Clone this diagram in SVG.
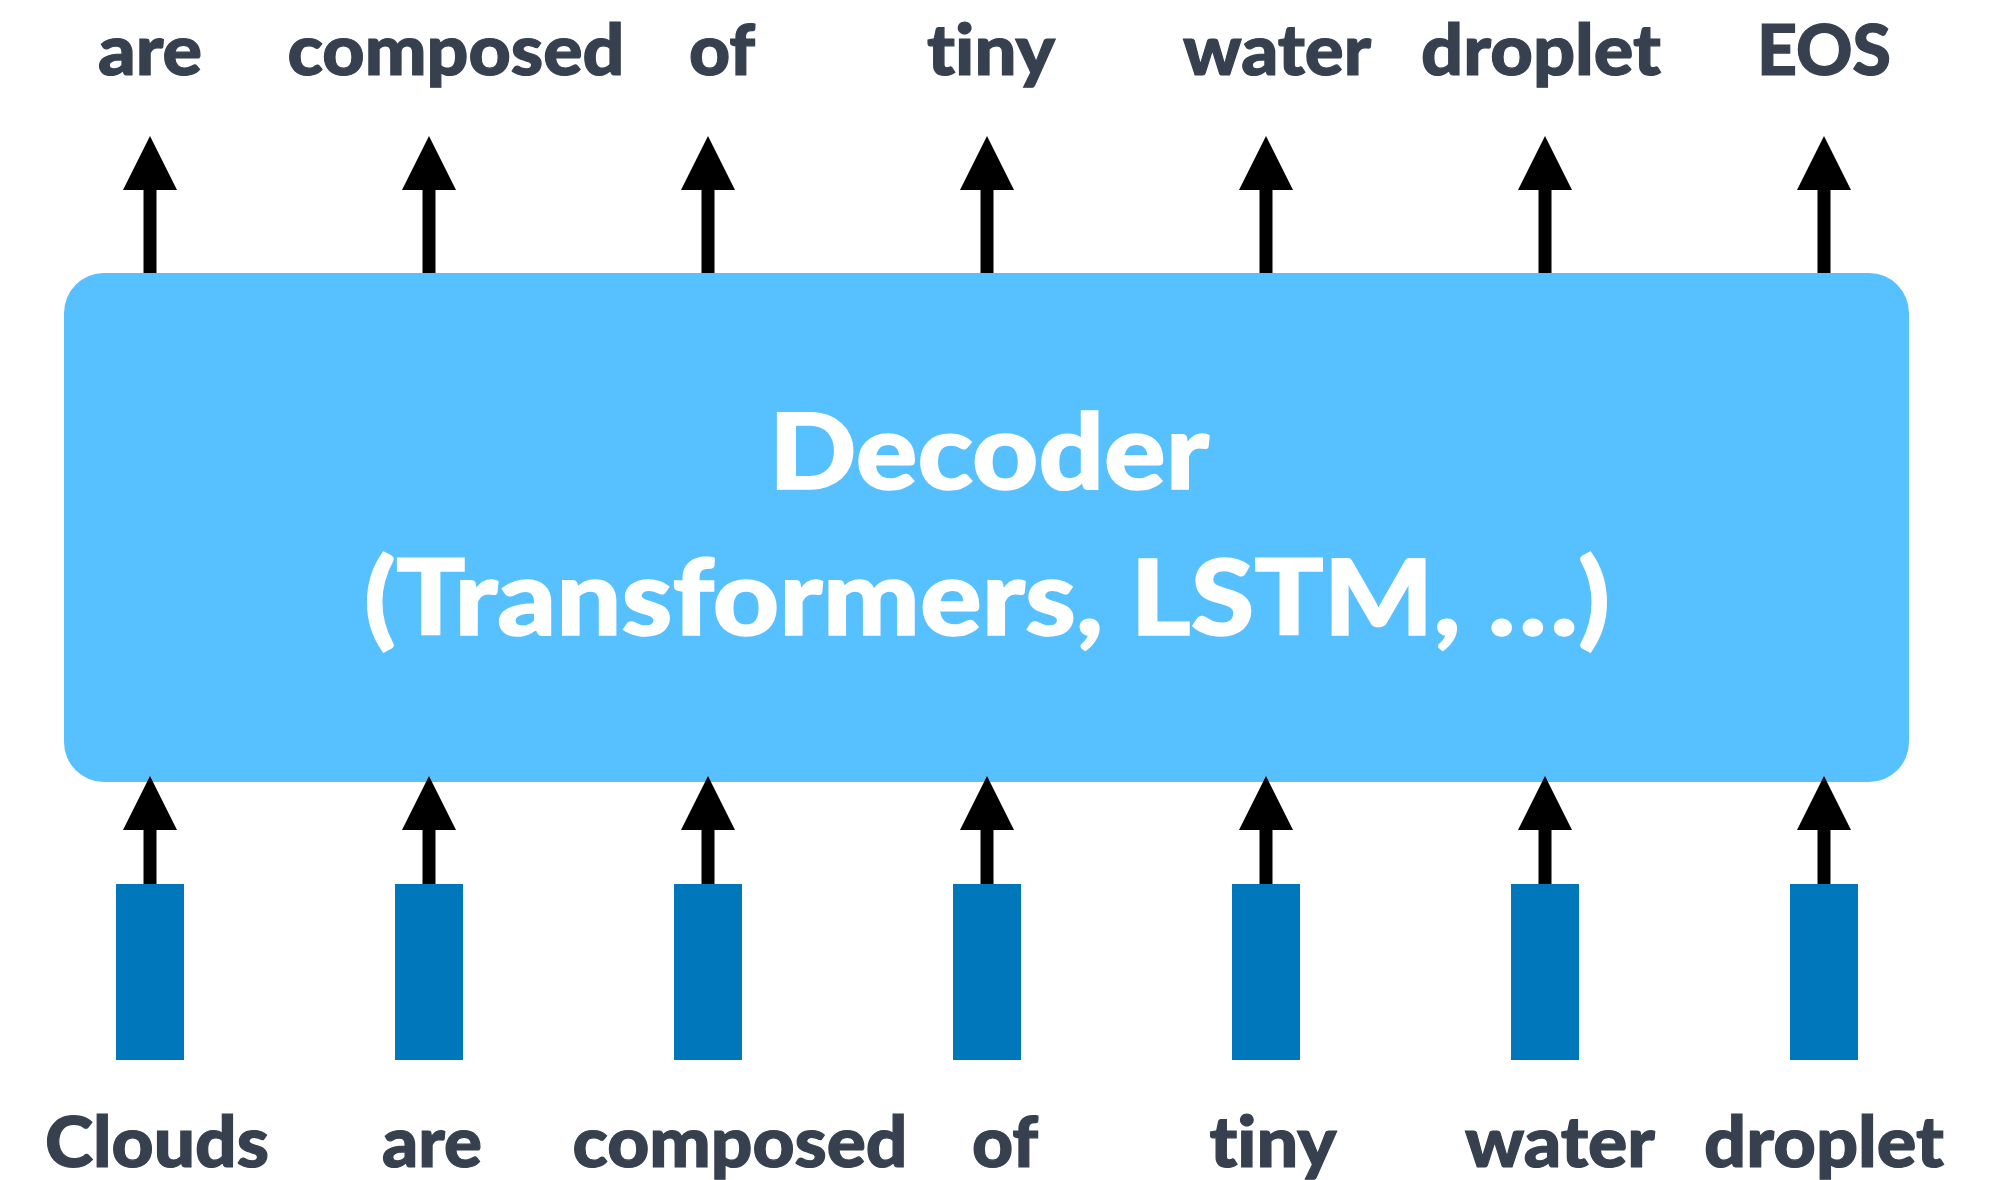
<svg xmlns="http://www.w3.org/2000/svg" width="1993" height="1180" viewBox="0 0 1993 1180">
<defs>
<marker id="head" viewBox="0 0 54 54" markerWidth="54" markerHeight="54" markerUnits="userSpaceOnUse" refX="0" refY="27" orient="auto">
<path d="M0,0 L54,27 L0,54 Z" fill="#000"/>
</marker>
<style>
.lbl{font-family:Lato,"Liberation Sans",sans-serif;font-weight:900;font-size:70px;fill:#37404F;text-anchor:middle;font-variant-ligatures:none;stroke:#37404F;stroke-width:1.2}
.title{font-family:Lato,"Liberation Sans",sans-serif;font-weight:900;font-size:104px;fill:#fff;text-anchor:middle;font-variant-ligatures:none;stroke:#fff;stroke-width:1.5}
.tok{fill:#0077BA}
.arr{stroke:#000;stroke-width:13;fill:none;marker-end:url(#head)}
</style>
</defs>
<rect width="1993" height="1180" fill="#fff"/>
<g id="decoder">
<rect x="64" y="273" width="1845" height="509" rx="40" ry="40" fill="#57C0FE"/>
<text class="title" x="989" y="489" textLength="440" lengthAdjust="spacingAndGlyphs">Decoder</text>
<text class="title" x="987" y="635" textLength="1246" lengthAdjust="spacingAndGlyphs">(Transformers, LSTM, …)</text>
</g>
<g id="outputs">
<text class="lbl" x="150" y="75" textLength="104" lengthAdjust="spacingAndGlyphs">are</text>
<text class="lbl" x="456" y="75" textLength="337" lengthAdjust="spacingAndGlyphs">composed</text>
<text class="lbl" x="722" y="75" textLength="66" lengthAdjust="spacingAndGlyphs">of</text>
<text class="lbl" x="991" y="75" textLength="128" lengthAdjust="spacingAndGlyphs">tiny</text>
<text class="lbl" x="1277" y="75" textLength="188" lengthAdjust="spacingAndGlyphs">water</text>
<text class="lbl" x="1541" y="75" textLength="240" lengthAdjust="spacingAndGlyphs">droplet</text>
<text class="lbl" x="1824" y="75" textLength="134" lengthAdjust="spacingAndGlyphs">EOS</text>
</g>
<g id="inputs">
<g id="tok1"><rect class="tok" x="116" y="884" width="68" height="176"/><text class="lbl" x="157" y="1167" textLength="224" lengthAdjust="spacingAndGlyphs">Clouds</text></g>
<g id="tok2"><rect class="tok" x="395" y="884" width="68" height="176"/><text class="lbl" x="432" y="1167" textLength="100" lengthAdjust="spacingAndGlyphs">are</text></g>
<g id="tok3"><rect class="tok" x="674" y="884" width="68" height="176"/><text class="lbl" x="740" y="1167" textLength="335" lengthAdjust="spacingAndGlyphs">composed</text></g>
<g id="tok4"><rect class="tok" x="953" y="884" width="68" height="176"/><text class="lbl" x="1005" y="1167" textLength="66" lengthAdjust="spacingAndGlyphs">of</text></g>
<g id="tok5"><rect class="tok" x="1232" y="884" width="68" height="176"/><text class="lbl" x="1273" y="1167" textLength="127" lengthAdjust="spacingAndGlyphs">tiny</text></g>
<g id="tok6"><rect class="tok" x="1511" y="884" width="68" height="176"/><text class="lbl" x="1560" y="1167" textLength="190" lengthAdjust="spacingAndGlyphs">water</text></g>
<g id="tok7"><rect class="tok" x="1790" y="884" width="68" height="176"/><text class="lbl" x="1824" y="1167" textLength="240" lengthAdjust="spacingAndGlyphs">droplet</text></g>
</g>
<g id="connectors">
<path class="arr" d="M150,273 V190"/>
<path class="arr" d="M429,273 V190"/>
<path class="arr" d="M708,273 V190"/>
<path class="arr" d="M987,273 V190"/>
<path class="arr" d="M1266,273 V190"/>
<path class="arr" d="M1545,273 V190"/>
<path class="arr" d="M1824,273 V190"/>
<path class="arr" d="M150,884 V830"/>
<path class="arr" d="M429,884 V830"/>
<path class="arr" d="M708,884 V830"/>
<path class="arr" d="M987,884 V830"/>
<path class="arr" d="M1266,884 V830"/>
<path class="arr" d="M1545,884 V830"/>
<path class="arr" d="M1824,884 V830"/>
</g>
</svg>
